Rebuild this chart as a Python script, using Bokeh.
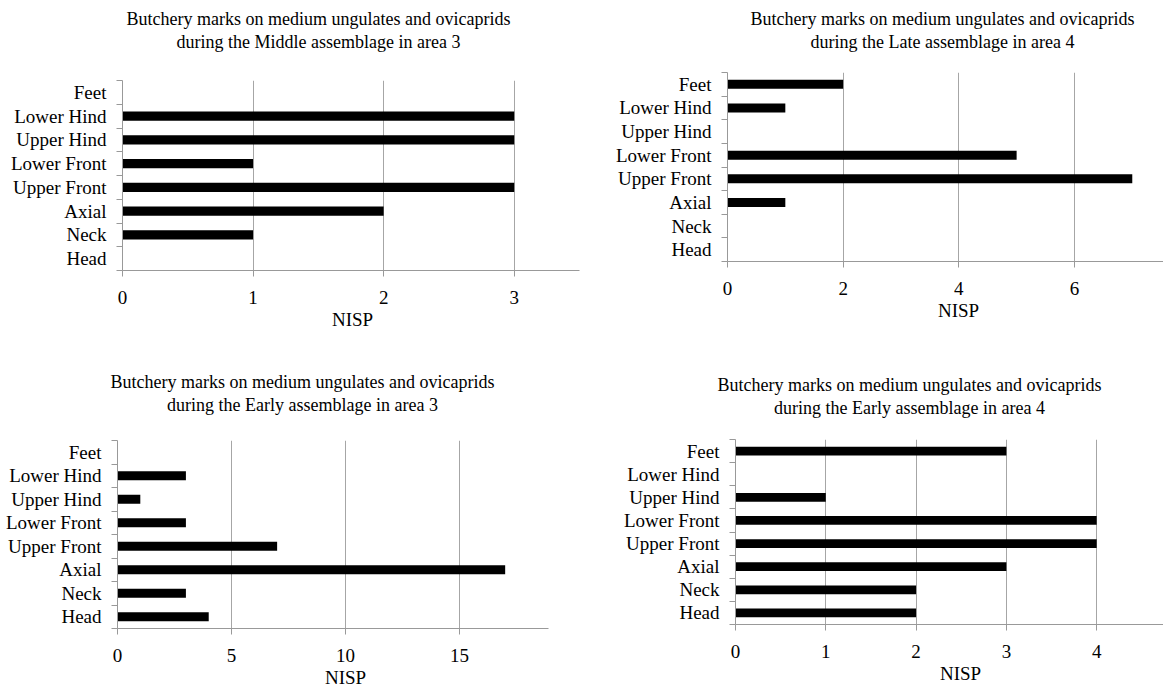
from bokeh.plotting import figure
from bokeh.models import Range1d, FixedTicker, Title
from bokeh.layouts import column, row
from bokeh.embed import file_html
from bokeh.resources import INLINE

# ---------------- data ----------------
categories = ["Head", "Neck", "Axial", "Upper Front", "Lower Front",
              "Upper Hind", "Lower Hind", "Feet"]

middle_area3 = [0, 1, 2, 3, 1, 3, 3, 0]
late_area4 = [0, 0, 1, 7, 5, 0, 1, 2]
early_area3 = [4, 3, 17, 7, 3, 1, 3, 0]
early_area4 = [2, 2, 3, 4, 4, 1, 0, 3]

title_line1 = "Butchery marks on medium ungulates and ovicaprids"
title_middle_area3 = "during the Middle assemblage in area 3"
title_late_area4 = "during the Late assemblage in area 4"
title_early_area3 = "during the Early assemblage in area 3"
title_early_area4 = "during the Early assemblage in area 4"

ticks_middle_area3 = [0, 1, 2, 3]
ticks_late_area4 = [0, 2, 4, 6]
ticks_early_area3 = [0, 5, 10, 15]
ticks_early_area4 = [0, 1, 2, 3, 4]

x_label = "NISP"

# ---------------- style ----------------
FONT = "Liberation Serif"
TITLE_PX = 18
LABEL_PX = 19
AXIS_GRAY = "#999999"
GRID_GRAY = "#a6a6a6"

# Times / Liberation Serif advance widths (1/1000 em) for centring texts
TIMES = {" ": 250, "B": 667, "E": 611, "L": 611, "M": 889, "N": 722, "I": 333,
         "S": 556, "P": 556, "a": 444, "b": 500, "c": 444, "d": 500, "e": 444,
         "g": 500, "h": 500, "i": 278, "k": 500, "l": 278, "m": 778, "n": 500,
         "o": 500, "p": 500, "r": 333, "s": 389, "t": 278, "u": 500, "v": 500,
         "w": 722, "y": 500}


def text_width(s, px):
    return sum(TIMES.get(c, 500) for c in s) / 1000.0 * px


def make_panel(values, subtitle, ticks, xmax, fig_left, fig_top, w, h,
               bl, bt, fw, fh, title_cx, line2_y, nisp_cx):
    br = w - bl - fw
    bb = h - bt - fh
    frame_left = fig_left + bl
    frame_top = fig_top + bt
    n = len(categories)
    p = figure(width=w, height=h, x_range=Range1d(0, xmax), y_range=Range1d(0, n),
               min_border_left=bl, min_border_right=br, min_border_top=bt,
               min_border_bottom=bb, output_backend="svg", toolbar_location=None,
               outline_line_color=None, background_fill_color="white",
               border_fill_color="white")
    ypos = [i + 0.5 for i in range(n)]
    p.hbar(y=ypos, left=0, right=values, height=0.38, fill_color="black",
           line_color=None)

    # y axis: labels at category centres, tick marks at boundaries
    p.yaxis.ticker = FixedTicker(ticks=ypos, minor_ticks=list(range(n + 1)))
    p.yaxis.major_label_overrides = {y: c for y, c in zip(ypos, categories)}
    p.yaxis.major_tick_out = 0
    p.yaxis.major_tick_in = 0
    p.yaxis.minor_tick_out = 6
    p.yaxis.minor_tick_in = 0
    p.yaxis.minor_tick_line_color = AXIS_GRAY
    p.yaxis.axis_line_color = AXIS_GRAY
    p.yaxis.major_label_standoff = 10
    p.yaxis.major_label_text_font = FONT
    p.yaxis.major_label_text_font_size = f"{LABEL_PX}px"
    p.yaxis.major_label_text_color = "black"

    # x axis
    p.xaxis.ticker = FixedTicker(ticks=ticks, minor_ticks=[])
    p.xaxis.major_tick_out = 6
    p.xaxis.major_tick_in = 0
    p.xaxis.major_tick_line_color = AXIS_GRAY
    p.xaxis.minor_tick_line_color = None
    p.xaxis.minor_tick_out = 0
    p.xaxis.axis_line_color = AXIS_GRAY
    p.xaxis.major_label_standoff = 14
    p.xaxis.major_label_text_font = FONT
    p.xaxis.major_label_text_font_size = f"{LABEL_PX}px"
    p.xaxis.major_label_text_color = "black"

    p.xgrid.ticker = FixedTicker(ticks=ticks, minor_ticks=[])
    p.xgrid.grid_line_color = GRID_GRAY
    p.ygrid.visible = False

    # titles: spacer next to the frame, then line 2, then line 1
    line_h = 1.107 * TITLE_PX
    spacer = max(frame_top - (line2_y + line_h / 2), 0)
    p.add_layout(Title(text=" ", text_font_size="1px", standoff=int(round(spacer)),
                       text_font=FONT), "above")
    for txt, so in ((subtitle, 0), (title_line1, 2)):
        off = title_cx - text_width(txt, TITLE_PX) / 2 - frame_left
        p.add_layout(Title(text=txt, align="left", offset=off, standoff=so,
                           text_font=FONT, text_font_size=f"{TITLE_PX}px",
                           text_font_style="normal", text_color="black"), "above")

    # x axis title below the tick labels
    off = nisp_cx - text_width(x_label, LABEL_PX) / 2 - frame_left
    p.add_layout(Title(text=x_label, align="left", offset=off, standoff=0,
                       text_font=FONT, text_font_size=f"{LABEL_PX}px",
                       text_font_style="normal", text_color="black"), "below")
    return p


p1 = make_panel(middle_area3, title_middle_area3, ticks_middle_area3, 3.5,
                0, 0, 590, 340, 122, 80, 457, 190, 318, 44, 352)
p2 = make_panel(late_area4, title_late_area4, ticks_late_area4, 7.54,
                590, 0, 573, 340, 137, 72, 436, 189, 942, 44.5, 958)
p3 = make_panel(early_area3, title_early_area3, ticks_early_area3, 18.9,
                0, 340, 590, 347, 117, 100, 431, 188, 302, 407, 345)
p4 = make_panel(early_area4, title_early_area4, ticks_early_area4, 4.74,
                590, 340, 573, 347, 145, 99, 428, 185, 909, 410, 960)

layout = column(row(column(p1), column(p2), spacing=0),
                row(column(p3), column(p4), spacing=0), spacing=0)

open("out.html", "w").write(file_html(layout, INLINE))
